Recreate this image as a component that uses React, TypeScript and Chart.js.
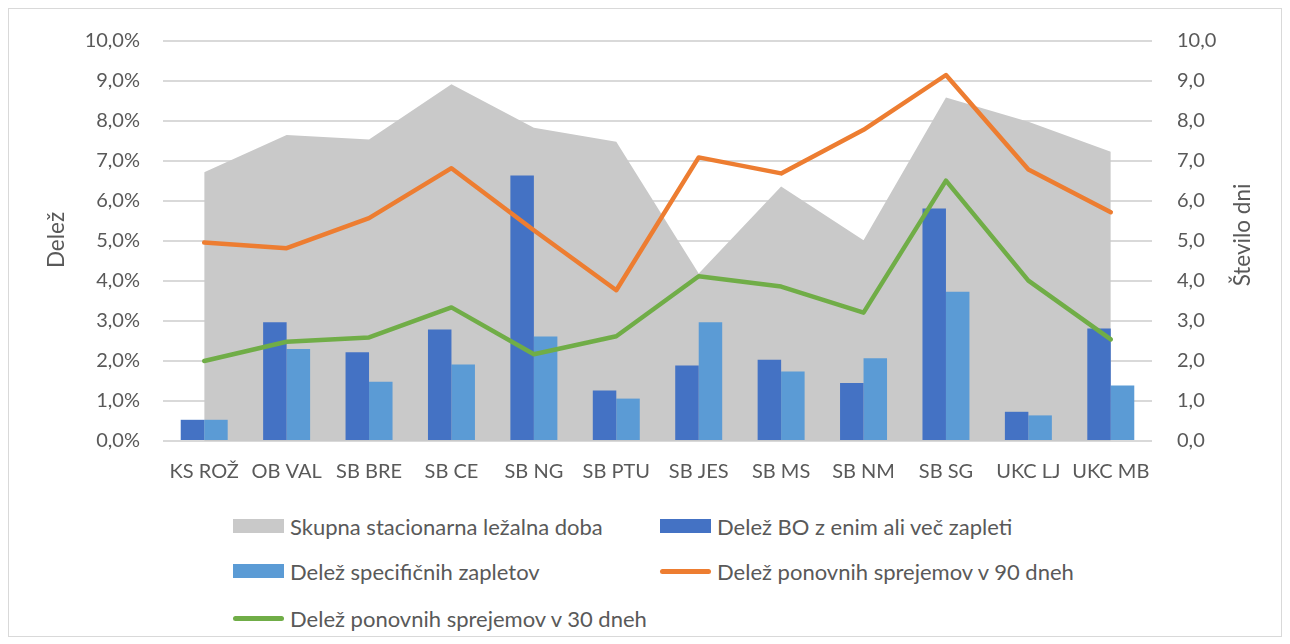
import React, { useEffect, useRef } from "react";
import { Chart, registerables } from "chart.js";

Chart.register(...registerables);

const categories = ["KS ROŽ", "OB VAL", "SB BRE", "SB CE", "SB NG", "SB PTU", "SB JES", "SB MS", "SB NM", "SB SG", "UKC LJ", "UKC MB"];
const lezalnaDoba = [6.72, 7.65, 7.54, 8.92, 7.83, 7.48, 4.19, 6.36, 5.02, 8.59, 7.98, 7.23];
const delezBO = [0.53, 2.97, 2.22, 2.79, 6.64, 1.26, 1.89, 2.03, 1.45, 5.81, 0.73, 2.81];
const delezSpecificnih = [0.53, 2.30, 1.48, 1.91, 2.61, 1.06, 2.97, 1.74, 2.07, 3.73, 0.64, 1.39];
const ponovni90 = [4.96, 4.82, 5.57, 6.82, 5.27, 3.77, 7.09, 6.69, 7.78, 9.15, 6.79, 5.72];
const ponovni30 = [2.0, 2.48, 2.59, 3.34, 2.17, 2.62, 4.12, 3.86, 3.21, 6.51, 4.01, 2.54];

const seriesLabels = [
  "Skupna stacionarna ležalna doba",
  "Delež BO z enim ali več zapleti",
  "Delež specifičnih zapletov",
  "Delež ponovnih sprejemov v 90 dneh",
  "Delež ponovnih sprejemov v 30 dneh",
];
const leftTitle = "Delež";
const rightTitle = "Število dni";

const FONT = "Lato";
const FS = 20;
const TITLE_FS = 22.5;
const LEGEND_FS = 22;
const TEXT = "#595959";
const GRAY = "#c9c9c9";
const DARK = "#4472c4";
const LIGHT = "#5b9bd5";
const ORANGE = "#ed7d31";
const GREEN = "#70ad47";

const W = 1272;
const H = 505;
const CANVAS_TOP = -5;
const X_AXIS_H = 68;

const axisTitles = {
  id: "axisTitles",
  afterDraw(chart: any) {
    const ctx = chart.ctx;
    const draw = (text: string, x: number, y: number) => {
      ctx.save();
      ctx.fillStyle = TEXT;
      ctx.font = `${TITLE_FS}px ${FONT}`;
      ctx.textAlign = "center";
      ctx.textBaseline = "middle";
      ctx.translate(x, y);
      ctx.rotate(-Math.PI / 2);
      ctx.fillText(text, 0, 0);
      ctx.restore();
    };
    draw(leftTitle, 48, 236);
    draw(rightTitle, 1234, 231);
  },
};

const fmt = (v: number) => v.toFixed(1).replace(".", ",");

export default function App() {
  const ref = useRef<HTMLCanvasElement>(null);
  useEffect(() => {
    if (!ref.current) return;
    const chart = new Chart(ref.current, {
      type: "bar",
      data: {
        labels: categories,
        datasets: [
          {
            type: "line",
            label: seriesLabels[0],
            data: lezalnaDoba,
            yAxisID: "y1",
            fill: "origin",
            backgroundColor: GRAY,
            borderColor: "rgba(0,0,0,0)",
            borderWidth: 0,
            pointRadius: 0,
            tension: 0,
            order: 10,
          } as any,
          {
            type: "bar",
            label: seriesLabels[1],
            data: delezBO,
            yAxisID: "y",
            backgroundColor: DARK,
            order: 5,
          },
          {
            type: "bar",
            label: seriesLabels[2],
            data: delezSpecificnih,
            yAxisID: "y",
            backgroundColor: LIGHT,
            order: 5,
          },
          {
            type: "line",
            label: seriesLabels[3],
            data: ponovni90,
            yAxisID: "y",
            borderColor: ORANGE,
            backgroundColor: ORANGE,
            borderWidth: 4.5,
            borderCapStyle: "round",
            borderJoinStyle: "round",
            pointRadius: 0,
            fill: false,
            tension: 0,
            order: 1,
          } as any,
          {
            type: "line",
            label: seriesLabels[4],
            data: ponovni30,
            yAxisID: "y",
            borderColor: GREEN,
            backgroundColor: GREEN,
            borderWidth: 4.5,
            borderCapStyle: "round",
            borderJoinStyle: "round",
            pointRadius: 0,
            fill: false,
            tension: 0,
            order: 1,
          } as any,
        ],
      },
      options: {
        responsive: false,
        animation: false,
        devicePixelRatio: 1,
        layout: { padding: { top: 0, left: 0, right: 0, bottom: 0 } },
        datasets: {
          bar: { categoryPercentage: 0.57, barPercentage: 1 },
        },
        plugins: {
          legend: { display: false },
          title: { display: false },
          tooltip: { enabled: false },
        },
        scales: {
          x: {
            offset: true,
            grid: { display: false },
            border: { display: false },
            ticks: {
              color: TEXT,
              font: { family: FONT, size: FS },
              padding: 11,
              maxRotation: 0,
              autoSkip: false,
            },
            afterFit(s: any) {
              s.height = X_AXIS_H;
            },
          },
          y: {
            position: "left",
            min: 0,
            max: 10,
            grid: { color: "#d9d9d9", lineWidth: 2, drawTicks: false },
            border: { display: false },
            ticks: {
              stepSize: 1,
              color: TEXT,
              font: { family: FONT, size: FS },
              padding: 23,
              callback: (v: any) => fmt(Number(v)) + "%",
            },
            afterFit(s: any) {
              s.width = 154;
            },
          },
          y1: {
            position: "right",
            min: 0,
            max: 10,
            grid: { display: false, drawTicks: false },
            border: { display: false },
            ticks: {
              stepSize: 1,
              color: TEXT,
              font: { family: FONT, size: FS },
              padding: 25,
              callback: (v: any) => fmt(Number(v)),
            },
            afterFit(s: any) {
              s.width = W - 1143;
            },
          },
        },
      },
      plugins: [axisTitles],
    } as any);
    return () => chart.destroy();
  }, []);

  const legendItems = [
    { label: seriesLabels[0], color: GRAY, kind: "box", left: 224, top: 517 },
    { label: seriesLabels[1], color: DARK, kind: "box", left: 651, top: 517 },
    { label: seriesLabels[2], color: LIGHT, kind: "box", left: 224, top: 562 },
    { label: seriesLabels[3], color: ORANGE, kind: "line", left: 651, top: 562 },
    { label: seriesLabels[4], color: GREEN, kind: "line", left: 224, top: 609 },
  ];

  return (
    <div
      style={{
        position: "relative",
        width: W,
        height: 627,
        border: "1px solid #d9d9d9",
        background: "#fff",
        fontFamily: FONT,
      }}
    >
      <canvas
        ref={ref}
        width={W}
        height={H}
        style={{ position: "absolute", left: 0, top: CANVAS_TOP, width: W, height: H }}
      />
      {legendItems.map((it) => (
        <div
          key={it.label}
          style={{
            position: "absolute",
            left: it.left,
            top: it.top - 14,
            height: 28,
            display: "flex",
            alignItems: "center",
            whiteSpace: "nowrap",
            color: TEXT,
            fontSize: LEGEND_FS,
            fontFamily: FONT,
          }}
        >
          <span
            style={{
              display: "inline-block",
              width: 51,
              height: it.kind === "box" ? 14 : 5,
              borderRadius: it.kind === "box" ? 0 : 3,
              background: it.color,
              marginRight: 6,
            }}
          />
          <span>{it.label}</span>
        </div>
      ))}
    </div>
  );
}
